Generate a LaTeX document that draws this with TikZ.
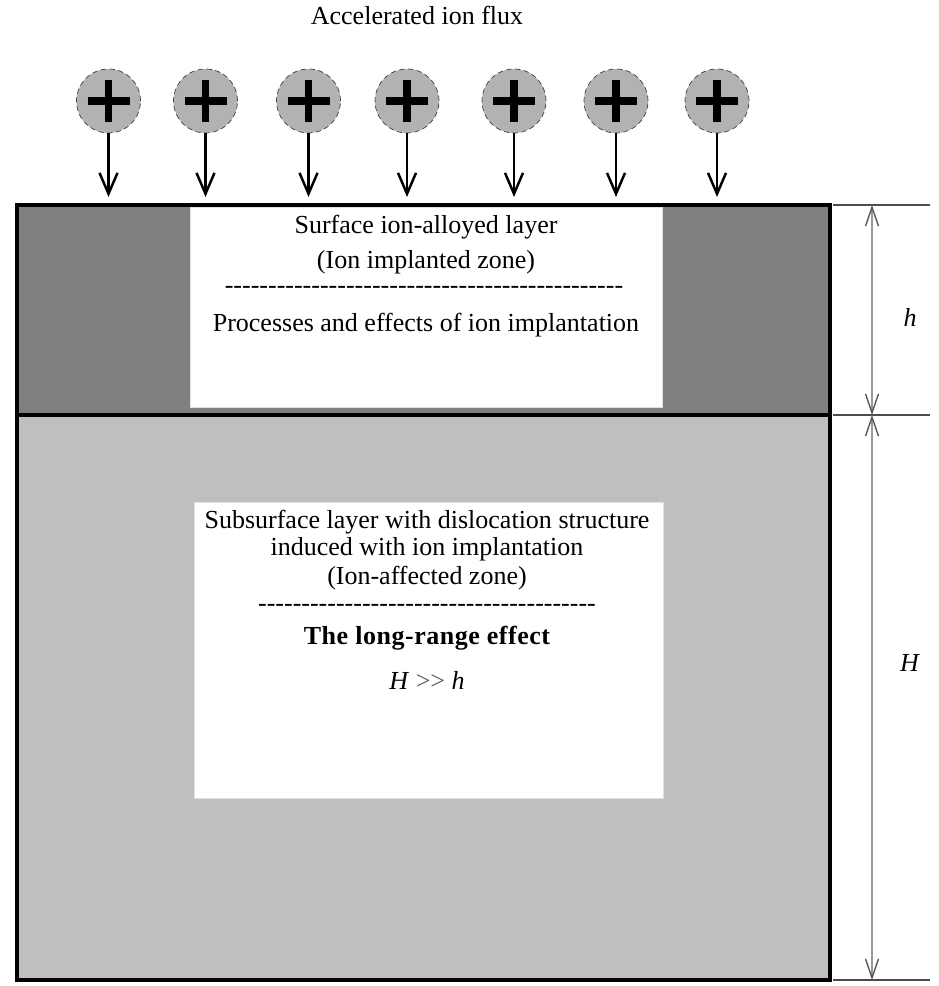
\documentclass[tikz,border=0pt]{standalone}
\usepackage{fontspec}
\setmainfont{Liberation Serif}
\newfontfamily\plainserif{Liberation Serif}[Ligatures=TeXOff]
\usepackage{xcolor}
\usetikzlibrary{arrows.meta,positioning}

\begin{document}
\begin{tikzpicture}[
  txt/.style={font=\fontsize{14.8}{17}\selectfont, inner sep=0pt, text height=1.5ex, text depth=0pt},
  ion/.style={circle, minimum size=1.28cm, inner sep=0pt, fill=black!30, draw=black!75, densely dashed, line width=0.4pt},
  plus/.style={line width=0.15cm},
  flux/.style={line width=1.4pt, -{Straight Barb[length=0.42cm,width=0.36cm,line width=1.4pt]}},
  dim/.style={draw=black!40, line width=0.8pt,
    {Straight Barb[length=0.38cm,width=0.26cm,black!65,line width=0.8pt]}-{Straight Barb[length=0.38cm,width=0.26cm,black!65,line width=0.8pt]}},
  ext/.style={draw=black!70, line width=0.7pt}
]
  \useasboundingbox (0,0) rectangle (18.76,19.72);

  % Title
  \node[txt] (title) at (8.34,19.36) {Accelerated ion flux};

  % Layers
  \fill[black!50] (0.34,11.42) rectangle (16.6,15.62);
  \fill[black!25] (0.34,0.12) rectangle (16.6,11.42);
  \filldraw[fill=white, draw=black!12, line width=0.5pt] (3.80,11.58) rectangle (13.24,15.58);
  \filldraw[fill=white, draw=black!12, line width=0.5pt] (3.88,3.76) rectangle (13.26,9.68);
  \draw[line width=2.2pt] (0.34,0.12) rectangle (16.6,15.62);
  \draw[line width=2.2pt] (0.34,11.42) -- (16.6,11.42);

  % Ions and their paths
  \foreach \x [count=\i] in {2.17,4.11,6.17,8.14,10.28,12.32,14.34} {
    \node[ion] (ion\i) at (\x,17.70) {};
    \draw[plus] (ion\i.center) +(-0.42,0) -- +(0.42,0)
                (ion\i.center) +(0,-0.42) -- +(0,0.42);
    \coordinate (hit\i) at (\x,15.78);
    \draw[flux] (ion\i) -- (hit\i);
  }

  % Implanted zone
  \node[txt] (alloyed) at (8.52,15.18) {Surface ion-alloyed layer};
  \node[txt] (implanted) at (8.52,14.48) {(Ion implanted zone)};
  \node[txt] (sepTop) at (8.48,13.98) {\plainserif ----------------------------------------------};
  \node[txt] (processes) at (8.52,13.22) {Processes and effects of ion implantation};

  % Affected zone
  \node[txt] (subsurface) at (8.54,9.28) {Subsurface layer with dislocation structure};
  \node[txt] (induced) at (8.54,8.74) {induced with ion implantation};
  \node[txt] (affected) at (8.54,8.16) {(Ion-affected zone)};
  \node[txt] (sepBot) at (8.54,7.62) {\plainserif ---------------------------------------};
  \node[txt] (longrange) at (8.54,6.96) {\bfseries\addfontfeatures{LetterSpace=2}The long-range effect};
  \node[txt] (ratio) at (8.54,6.06) {\textit{H} {\color{black!65}>{}>} \textit{h}};

  % Dimensions
  \foreach \y in {15.62,11.42,0.12}
    \draw[ext] (16.66,\y) -- (18.6,\y);
  \coordinate (dimTop) at (17.44,15.62);
  \coordinate (dimMid) at (17.44,11.42);
  \coordinate (dimBot) at (17.44,0.12);
  \draw[dim] (dimTop) -- (dimMid);
  \draw[dim] (dimMid) -- (dimBot);
  \node[txt] (hLabel) at (18.2,13.32) {\textit{h}};
  \node[txt] (HLabel) at (18.2,6.42) {\textit{H}};
\end{tikzpicture}
\end{document}
